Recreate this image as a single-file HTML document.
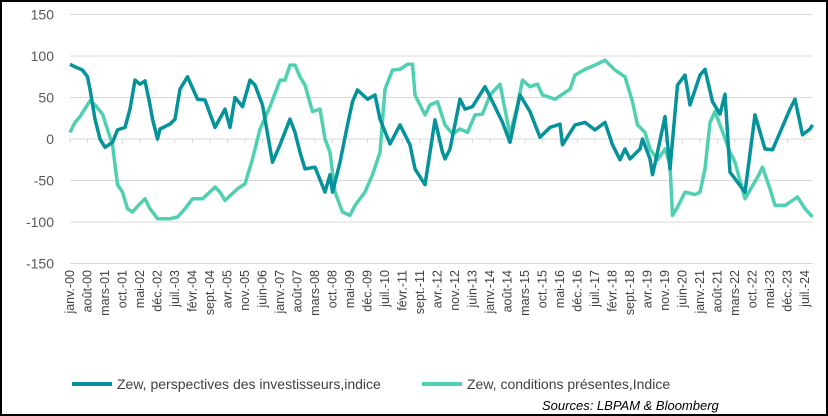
<!DOCTYPE html>
<html><head><meta charset="utf-8"><style>
body{margin:0;background:#fff;}
#wrap{position:relative;width:828px;height:416px;box-sizing:border-box;border:2px solid #000;overflow:hidden;font-family:"Liberation Sans",sans-serif;}
svg{position:absolute;left:0;top:0;}
</style></head><body>
<div id="wrap">
<svg id="chart" width="828" height="416"></svg>
</div>
<script>
const yTicks=[150,100,50,0,-50,-100,-150];
const xLabels=["janv.-00","août-00","mars-01","oct.-01","mai-02","déc.-02","juil.-03","févr.-04","sept.-04","avr.-05","nov.-05","juin-06","janv.-07","août-07","mars-08","oct.-08","mai-09","déc.-09","juil.-10","févr.-11","sept.-11","avr.-12","nov.-12","juin-13","janv.-14","août-14","mars-15","oct.-15","mai-16","déc.-16","juil.-17","févr.-18","sept.-18","avr.-19","nov.-19","juin-20","janv.-21","août-21","mars-22","oct.-22","mai-23","déc.-23","juil.-24"];
const persMonths=[0,2,5,7,8,10,12,14,17,19,22,24,26,28,30,32,33,35,36,40,42,44,47,51,54,58,62,64,66,69,72,74,77,81,84,88,90,92,94,98,102,104,105,108,111,113,115,119,122,124,128,132,136,138,142,146,149,150,152,156,158,161,166,169,173,176,180,184,188,192,196,197,202,206,210,214,217,220,222,224,228,229,232,233,235,238,240,243,246,248,252,254,257,260,262,264,270,274,278,281,284,288,290,293,296,297];
const persValues=[90,87,83,75,60,24,0,-10,-4,11,14,36,71,66,70,41,24,0,12,18,24,60,75,48,47,14,36,14,50,39,71,65,41,-28,-7,24,8,-16,-36,-34,-64,-43,-64,-28,17,45,59,48,53,24,-6,17,-7,-36,-55,23,-16,-24,-12,48,36,39,63,45,20,-4,53,33,2,14,18,-7,17,20,11,20,-7,-25,-12,-24,-12,0,-24,-43,-16,27,-36,65,77,41,77,84,45,30,54,-40,-64,29,-12,-13,8,36,48,5,12,17];
const condMonths=[0,2,4,8,10,13,17,19,21,23,25,28,30,32,35,40,43,46,49,53,58,60,62,67,70,73,76,80,84,86,88,90,92,94,97,100,102,104,106,109,112,114,118,121,124,126,129,132,135,137,138,142,144,147,150,153,156,159,162,165,168,172,176,179,181,184,187,189,194,197,200,202,206,210,214,218,222,225,227,230,232,235,238,240,241,243,246,250,252,254,256,258,260,264,266,270,275,277,280,282,286,291,294,297];
const condValues=[8,20,27,46,41,30,-7,-55,-64,-84,-88,-78,-72,-84,-96,-96,-94,-84,-72,-72,-58,-64,-74,-60,-54,-24,12,39,71,71,89,89,75,65,33,36,0,-16,-64,-88,-92,-80,-64,-43,-16,60,83,84,90,90,53,29,41,45,17,6,12,8,29,30,53,66,5,41,71,63,66,53,48,54,60,77,84,89,95,83,75,45,17,8,-12,-25,-12,-31,-92,-82,-64,-67,-64,-36,20,33,17,-16,-28,-72,-46,-34,-60,-80,-80,-70,-84,-94];

const NS="http://www.w3.org/2000/svg";
const svg=document.getElementById('chart');
const X0=68,PXM=2.5,Y0=137,PXU=41.5/50;
function xs(m){return X0+m*PXM;}
function ys(v){return Y0-v*PXU;}
function mk(t,a){const e=document.createElementNS(NS,t);for(const k in a)e.setAttribute(k,a[k]);svg.appendChild(e);return e;}
yTicks.forEach(v=>{
  const g=mk('line',{x1:X0,x2:811,y1:ys(v),y2:ys(v),stroke:'#d9d9d9','stroke-width':1});
  
  
  const t=mk('text',{x:52,y:ys(v)+5,'text-anchor':'end','font-size':'14','fill':'#595959','font-family':'Liberation Sans, sans-serif'});
  t.textContent=v;
  
  
});
xLabels.forEach((l,i)=>{
  const m=i*7;
  const tk=mk('line',{x1:xs(m),x2:xs(m),y1:Y0,y2:Y0+4,stroke:'#d9d9d9'});
  
  
  const t=mk('text',{x:0,y:0,'text-anchor':'end','font-size':'12.5','fill':'#404040','font-family':'Liberation Sans, sans-serif',transform:'translate('+(xs(m)+4)+',268) rotate(-90)'});
  t.textContent=l;
  
  
});
function series(ms,vs,color,name){
  const d=ms.map((m,i)=>(i?'L':'M')+xs(m).toFixed(1)+','+ys(vs[i]).toFixed(1)).join(' ');
  const p=mk('path',{d:d,fill:'none',stroke:color,'stroke-width':3.5,'stroke-linejoin':'round'});
  
  
}
series(condMonths,condValues,'#4fd0b1','series-conditions-presentes');
series(persMonths,persValues,'#05929a','series-perspectives-investisseurs');
function legend(x,color,label,tx,name){
  const l=mk('line',{x1:x,x2:x+40,y1:382,y2:382,stroke:color,'stroke-width':4});
  
  
  const t=mk('text',{x:tx,y:387,'font-size':'14','fill':'#404040','font-family':'Liberation Sans, sans-serif'});
  t.textContent=label;
  
  
}
legend(70,'#05929a','Zew, perspectives des investisseurs,indice',115,'legend-perspectives');
legend(420,'#4fd0b1','Zew,  conditions présentes,Indice',465,'legend-conditions');
const s=mk('text',{x:540,y:408,'font-size':'13','font-style':'italic','fill':'#000','font-family':'Liberation Sans, sans-serif'});
s.textContent='Sources: LBPAM & Bloomberg';


</script>
</body></html>
